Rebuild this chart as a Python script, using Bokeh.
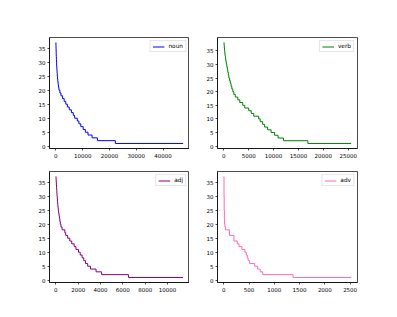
from bokeh.plotting import figure
from bokeh.layouts import gridplot
from bokeh.models import Range1d, FixedTicker
from bokeh.embed import file_html
from bokeh.resources import INLINE

# ---- data: frequency level and the rank at which that level ends ----
noun_levels = [37, 36, 35, 34, 33, 32, 31, 30, 29, 28, 27, 26, 25, 24, 23, 22, 21, 20, 19,
               18, 17, 16, 15, 14, 13, 12, 11, 10, 9, 8, 7, 6, 5, 4, 3, 2, 1]
noun_ends = [30, 60, 90, 120, 150, 190, 230, 280, 330, 390, 460, 540, 630, 730, 850, 990, 1150,
             1500, 1900, 2500, 3100, 3700, 4300, 5000, 5800, 6500, 7000, 8000, 8600, 9300,
             10200, 11000, 12000, 13500, 15500, 22200, 47500]

verb_levels = [38, 37, 36, 35, 34, 33, 32, 31, 30, 29, 28, 27, 26, 25, 24, 23, 22, 21, 20, 19,
               18, 17, 16, 15, 14, 13, 12, 11, 10, 9, 8, 7, 6, 5, 4, 3, 2, 1]
verb_ends = [40, 90, 140, 190, 250, 320, 400, 490, 600, 700, 800, 900, 1000, 1150, 1300, 1450,
             1600, 1800, 2000, 2300, 2800, 3200, 3800, 4200, 5000, 5500, 6000, 7000, 7300, 7800,
             8200, 8800, 9500, 10200, 10900, 12000, 16900, 25600]

adj_levels = [37, 36, 35, 34, 33, 32, 31, 30, 29, 28, 27, 26, 25, 24, 23, 22, 21, 20, 19,
              18, 17, 16, 15, 14, 13, 12, 11, 10, 9, 8, 7, 6, 5, 4, 3, 2, 1]
adj_ends = [15, 30, 45, 60, 75, 90, 105, 125, 145, 165, 190, 215, 245, 280, 320, 360, 400, 460,
            560, 800, 880, 1060, 1250, 1420, 1640, 1800, 2030, 2180, 2350, 2500, 2650, 2850,
            3100, 3600, 4100, 6500, 11400]

adv_levels = [37, 30, 25, 22, 20, 19, 18, 16, 14, 13, 12, 11, 10, 9, 8, 7, 6, 5, 4, 3, 2, 1]
adv_ends = [3, 6, 10, 14, 20, 30, 110, 200, 265, 300, 357, 417, 443, 463, 480, 510, 610, 670,
            720, 770, 1369, 2520]

y_ticks = [0, 5, 10, 15, 20, 25, 30, 35]
noun_xticks = [0, 10000, 20000, 30000, 40000]
verb_xticks = [0, 5000, 10000, 15000, 20000, 25000]
adj_xticks = [0, 2000, 4000, 6000, 8000, 10000]
adv_xticks = [0, 500, 1000, 1500, 2000, 2500]


def panel(levels, ends, xticks, color, label, bl, br, bt, bb, w, h):
    xs = [0] + ends
    ys = levels + [levels[-1]]
    xmin, xmax = min(xs), max(xs)
    ymin, ymax = min(ys), max(ys)
    xp = (xmax - xmin) * 0.05
    yp = (ymax - ymin) * 0.05
    p = figure(width=w, height=h, output_backend="svg", toolbar_location=None,
               x_range=Range1d(xmin - xp, xmax + xp), y_range=Range1d(ymin - yp, ymax + yp),
               min_border_left=bl, min_border_right=br, min_border_top=bt, min_border_bottom=bb)
    p.step(xs, ys, mode="after", line_color=color, line_width=1.0, legend_label=label)
    p.xgrid.visible = False
    p.ygrid.visible = False
    p.outline_line_color = "black"
    p.outline_line_width = 0.7
    p.background_fill_color = "white"
    p.border_fill_color = "white"
    p.xaxis.ticker = FixedTicker(ticks=xticks)
    p.yaxis.ticker = FixedTicker(ticks=y_ticks)
    for ax in (p.xaxis[0], p.yaxis[0]):
        ax.major_tick_out = 2
        ax.major_tick_in = 0
        ax.minor_tick_line_color = None
        ax.axis_line_color = "black"
        ax.axis_line_width = 0.7
        ax.major_tick_line_width = 0.7
        ax.major_label_text_font = "DejaVu Sans"
        ax.major_label_text_font_size = "5.5px"
        ax.major_label_text_color = "black"
        ax.major_label_standoff = 2
    lg = p.legend[0]
    lg.location = "top_right"
    lg.margin = 3
    lg.padding = 2
    lg.spacing = 0
    lg.glyph_width = 12
    lg.glyph_height = 5
    lg.label_height = 5
    lg.label_width = 5
    lg.label_standoff = 4
    lg.label_text_font = "DejaVu Sans"
    lg.label_text_font_size = "5.8px"
    lg.label_text_color = "black"
    lg.border_line_color = "#cccccc"
    lg.border_line_width = 0.8
    lg.background_fill_alpha = 0.8
    return p


p1 = panel(noun_levels, noun_ends, noun_xticks, "blue", "noun", 49, 0, 37, 20, 189, 168)
p2 = panel(verb_levels, verb_ends, verb_xticks, "green", "verb", 28, 10, 37, 20, 178, 168)
p3 = panel(adj_levels, adj_ends, adj_xticks, "purple", "adj", 49, 0, 3, 16, 189, 130)
p4 = panel(adv_levels, adv_ends, adv_xticks, "hotpink", "adv", 28, 10, 3, 16, 178, 130)

grid = gridplot([[p1, p2], [p3, p4]], toolbar_location=None)
open("out.html", "w").write(file_html(grid, INLINE))
